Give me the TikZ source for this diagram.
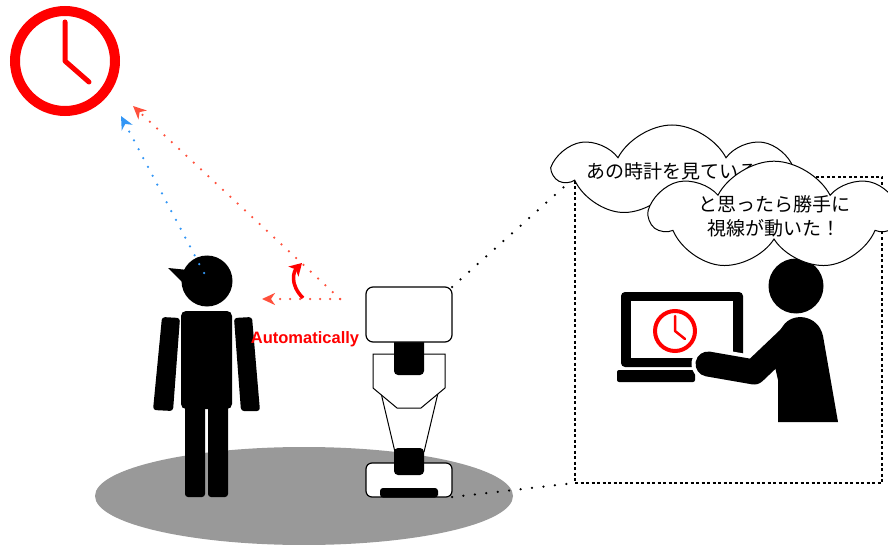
\documentclass[tikz,border=0pt]{standalone}
\usepackage{fontspec}
\setmainfont{Liberation Sans}
\newfontfamily\jpfont{Noto Sans CJK JP}
\usepackage{xcolor}
\usetikzlibrary{positioning, arrows.meta, shapes.symbols}
\definecolor{ClockRed}{RGB}{255, 0, 0}
\definecolor{GazeBlue}{RGB}{51, 150, 245}
\definecolor{GazeRed}{RGB}{255, 80, 60}
\definecolor{Floor}{RGB}{153, 153, 153}

\begin{document}
\begin{tikzpicture}[
        x=1pt, y=-1pt,
        every node/.style={inner sep=0, outer sep=0},
        gaze/.style={line width=2.5pt, line cap=round, dash pattern=on 0pt off 10pt,
            -{Stealth[length=13pt, width=12pt, inset=4pt]}},
        zoomline/.style={line width=2.5pt, line cap=round, dash pattern=on 0pt off 11.5pt},
        robotbox/.style={rectangle, draw=black, fill=white, line width=1.2pt, rounded corners=7pt},
        robotblack/.style={fill=black, rounded corners=4pt},
        thought/.style={cloud, cloud puffs=7, cloud puff arc=125, cloud ignores aspect,
            draw=black, fill=white, line width=1pt, align=center,
            font=\jpfont\fontsize{19}{24}\selectfont}
    ]
        \useasboundingbox (0,0) rectangle (888,545);

        % Floor
        \fill[Floor] (304,496) ellipse[x radius=209, y radius=49];

        % Clock on the wall
        \node[circle, draw=ClockRed, line width=10pt, minimum size=100pt] (clock) at (65,61) {};
        \draw[ClockRed, line width=5pt, line cap=round, line join=round] (65,22) -- (clock.center) -- (89,82);

        % Person
        \node[circle, fill=black, minimum size=51pt] (headL) at (207,281) {};
        \fill (168,268) -- (188,270) -- (184,284) -- cycle;
        \fill[rounded corners=5pt] (181,311) rectangle (232,409);
        \fill[rounded corners=3pt] (162,317) -- (180,318) -- (173,411) -- (153,410) -- cycle;
        \fill[rounded corners=3pt] (234,318) -- (252,317) -- (260,411) -- (241,411) -- cycle;
        \fill[rounded corners=3pt] (185,405) rectangle (205,497);
        \fill[rounded corners=3pt] (208,405) rectangle (228,497);

        % Gaze arrows
        \coordinate (eyes) at (204,273);
        \coordinate (blueTip) at (121,116);
        \coordinate (camEye) at (340,299);
        \coordinate (redTip) at (133,106);
        \coordinate (flatTip) at (262,299);
        \coordinate (turnFrom) at (303,298);
        \coordinate (turnTo) at (302,263);
        \draw[gaze, GazeBlue] (eyes) -- (blueTip);
        \draw[gaze, GazeRed] (camEye) -- (redTip);
        \draw[gaze, GazeRed] (camEye) -- (flatTip);
        \draw[ClockRed, line width=3.5pt, -{Stealth[length=12pt, width=14pt, inset=3pt]}]
            (turnFrom) .. controls (289,284) and (294,271) .. (turnTo);
        \node[anchor=base, text=ClockRed, font=\bfseries\fontsize{16.5}{18}\selectfont] (autoLabel) at (305,343) {Automatically};

        % Robot
        \draw[line width=1pt] (381,393) -- (395,452);
        \draw[line width=1pt] (438,393) -- (424,452);
        \draw[fill=white, line width=1pt] (373,354) -- (445,354) -- (445,388) -- (421,408) -- (397,408) -- (373,388) -- cycle;
        \fill[robotblack] (394,330) rectangle (424,375);
        \node[robotbox, minimum width=86pt, minimum height=55pt] (robotHead) at (409,314.5) {};
        \node[robotbox, rounded corners=6pt, minimum width=86pt, minimum height=34pt] (robotBase) at (409,480) {};
        \fill[robotblack] (394,448) rectangle (424,475);
        \fill[rounded corners=3pt] (380,488) rectangle (438,497.5) -- cycle;

        % Zoomed view
        \node[draw=black, line width=1.2pt, dash pattern=on 3pt off 2.5pt, minimum width=307pt, minimum height=306pt] (scene) at (728.5,330) {};
        \draw[zoomline] (robotHead.north east) -- (scene.north west);
        \draw[zoomline] (robotBase.south east) -- (scene.south west);

        % Laptop
        \fill[rounded corners=4pt] (621,292) rectangle (743,367);
        \fill[white] (631,301) rectangle (733,358);
        \fill[rounded corners=2pt] (617,370) rectangle (695,382);
        \node[circle, draw=ClockRed, line width=4pt, minimum size=40pt] (screenClock) at (675,331) {};
        \draw[ClockRed, line width=2.5pt, line cap=round, line join=round] (675,316) -- (screenClock.center) -- (685,339);

        % User at the laptop
        \draw[white, line width=33pt, line cap=round] (708,364) -- (754,372);
        \draw[line width=25pt, line cap=round, line join=round] (708,364) -- (754,372) -- (795,333);
        \fill (778,422) -- (838,422) -- (823,336) .. controls (818,314) and (792,312) .. (783,326) -- (770,345) -- (778,380) -- cycle;
        \node[circle, fill=black, minimum size=55pt] (headR) at (796,286) {};

        % Thoughts
        \node[thought, minimum width=232pt, minimum height=92pt] (thoughtA) at (672,171) {あの時計を見ている};
        \node[thought, minimum width=245pt, minimum height=94pt] (thoughtB) at (774,216) {と思ったら勝手に\\視線が動いた！};
    \end{tikzpicture}
\end{document}
